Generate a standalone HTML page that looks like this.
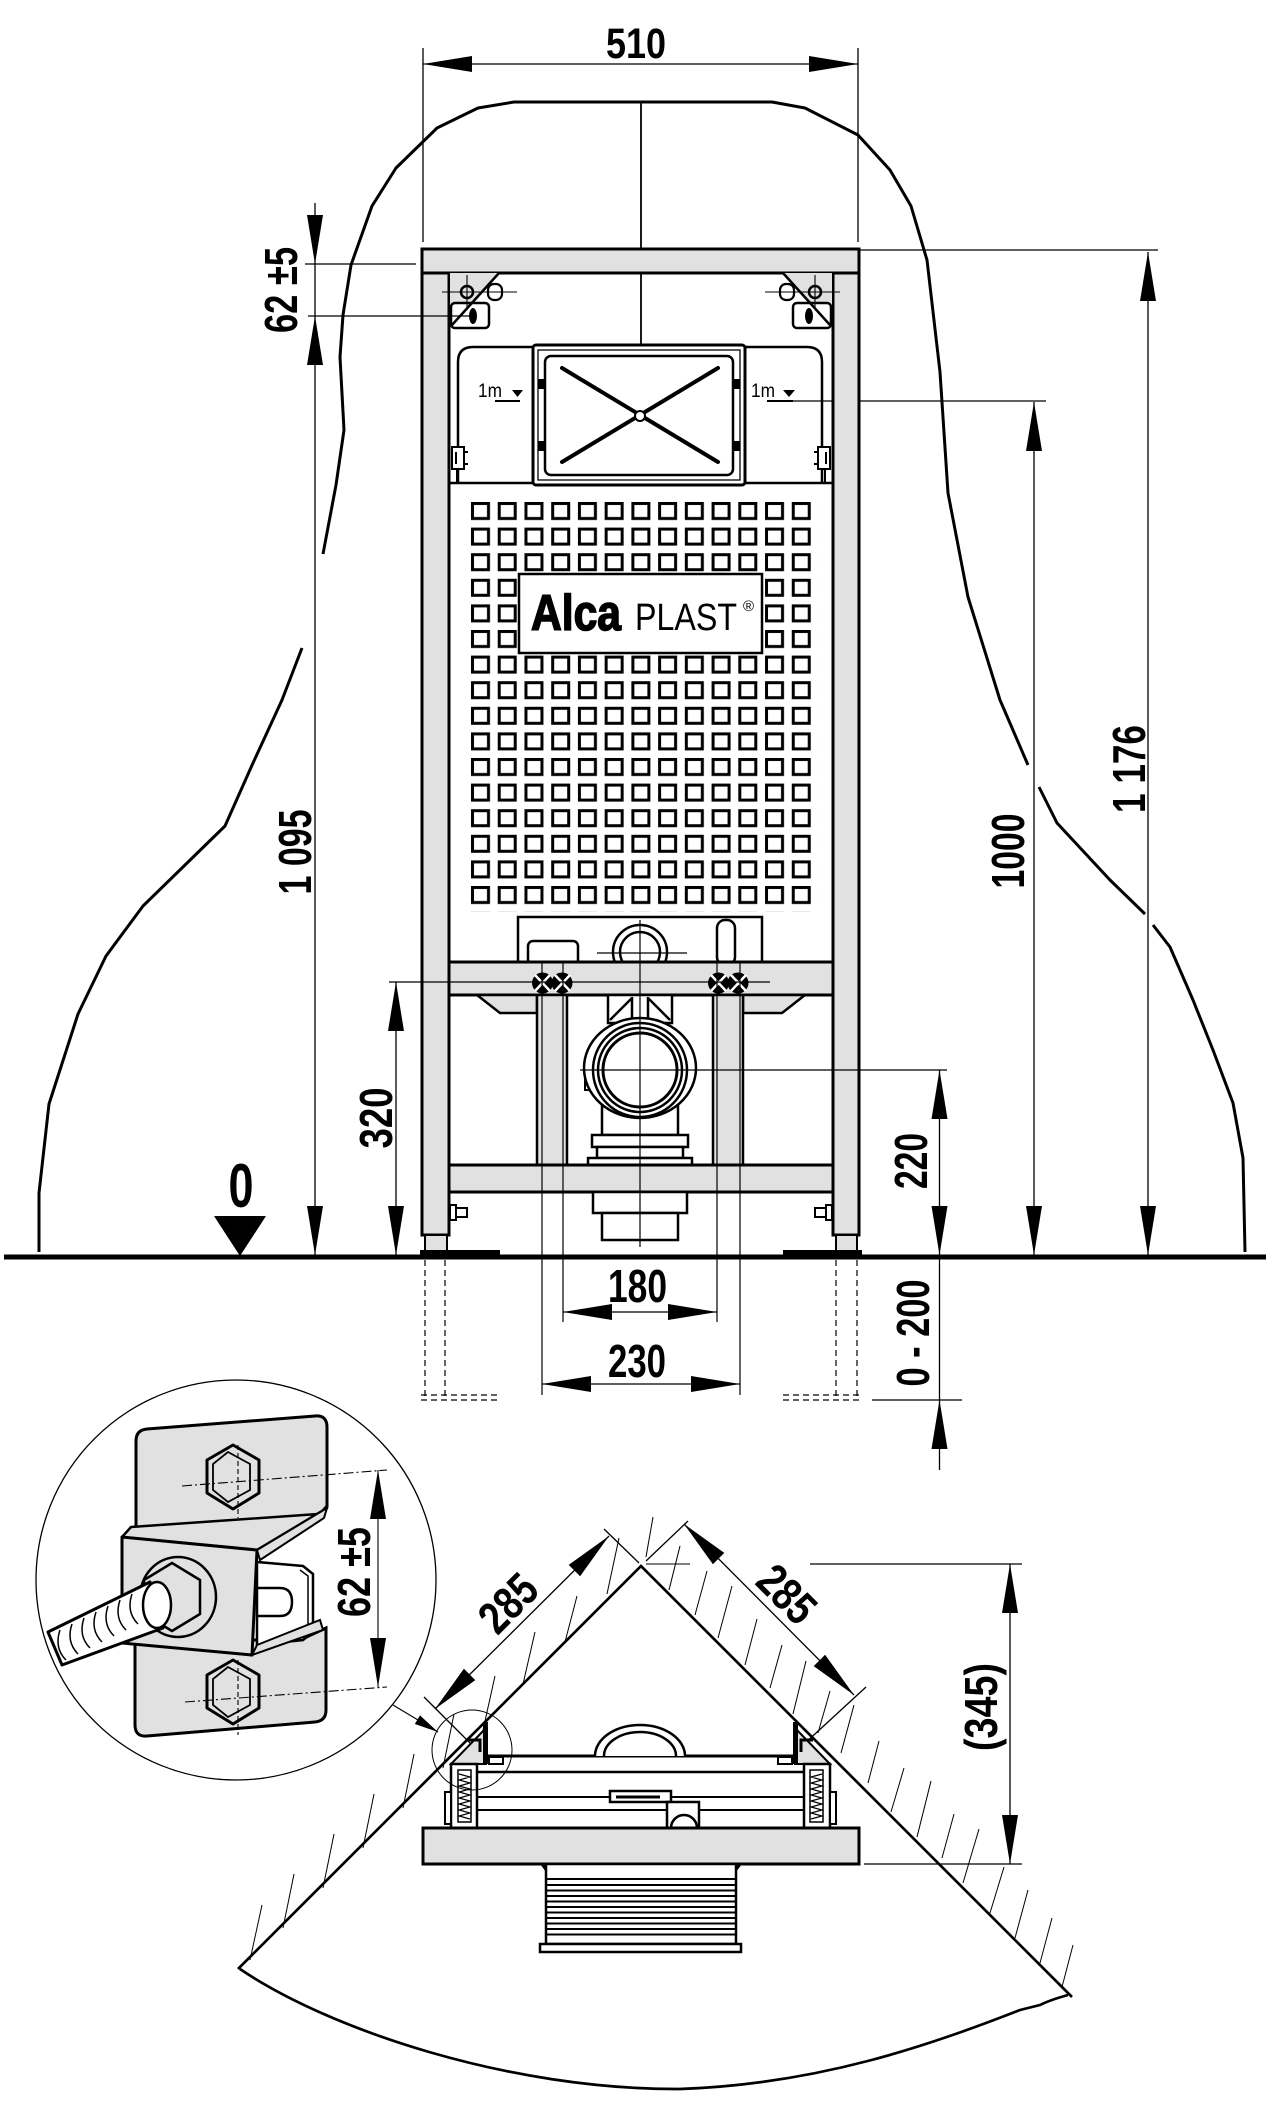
<!DOCTYPE html>
<html><head><meta charset="utf-8">
<style>
html,body{margin:0;padding:0;background:#fff;}
svg{display:block;}
text{font-family:"Liberation Sans",Arial,sans-serif;font-weight:bold;fill:#000;}
</style></head><body>
<svg width="1282" height="2123" viewBox="0 0 1282 2123" xmlns="http://www.w3.org/2000/svg">
<defs>
<pattern id="sq" x="471" y="502" width="26.73" height="25.6" patternUnits="userSpaceOnUse">
<rect x="1.5" y="1.5" width="16" height="15" fill="none" stroke="#000" stroke-width="3"/>
</pattern>
<g id="br">
<polygon points="783,273 832,273 832,325" fill="#e1e1e1"/>
<rect x="793" y="303" width="38" height="25" rx="4" fill="#fff" stroke="#000" stroke-width="2.5"/>
<ellipse cx="809" cy="316" rx="4" ry="8" fill="#000"/>
<line x1="783" y1="273" x2="830" y2="325" stroke="#000" stroke-width="2.5"/>
<rect x="780" y="284" width="14" height="16" rx="6" fill="none" stroke="#000" stroke-width="2.2"/>
<circle cx="815" cy="292" r="6" fill="none" stroke="#000" stroke-width="2.5"/>
<line x1="765" y1="292" x2="840" y2="292" stroke="#000" stroke-width="1.1"/>
<line x1="815" y1="275" x2="815" y2="307" stroke="#000" stroke-width="1.1"/>
</g>
<g id="clip">
<rect x="452" y="447" width="12" height="22" fill="#fff" stroke="#000" stroke-width="2"/>
<line x1="456" y1="452" x2="456" y2="464" stroke="#000" stroke-width="2"/>
<line x1="464" y1="452" x2="468" y2="452" stroke="#000" stroke-width="2"/>
<line x1="464" y1="464" x2="468" y2="464" stroke="#000" stroke-width="2"/>
<line x1="457" y1="469" x2="457" y2="483" stroke="#000" stroke-width="2"/>
</g>
<g id="sb">
<rect x="450" y="1205" width="6" height="15" fill="none" stroke="#000" stroke-width="2"/>
<rect x="456" y="1208" width="11" height="9" fill="none" stroke="#000" stroke-width="2"/>
</g>
<g id="tb">
<polygon points="451,1764 486,1764 486,1728" fill="#e1e1e1" stroke="#000" stroke-width="2"/>
<rect x="483" y="1722" width="5" height="42" fill="#000"/>
<path d="M468,1740 L480,1740 L480,1752" fill="none" stroke="#000" stroke-width="3"/>
<rect x="451" y="1764" width="26" height="64" fill="#fff" stroke="#000" stroke-width="2.5"/>
<rect x="458" y="1770" width="13" height="52" fill="#fff" stroke="#000" stroke-width="1.5"/>
<path d="M459,1774 l11,3 l-11,3 l11,3 l-11,3 l11,3 l-11,3 l11,3 l-11,3 l11,3 l-11,3 l11,3 l-11,3 l11,3 l-11,3 l11,3" fill="none" stroke="#000" stroke-width="1.2"/>
<rect x="445" y="1792" width="6" height="32" fill="#fff" stroke="#000" stroke-width="2"/>
<rect x="489" y="1757" width="14" height="7" fill="#fff" stroke="#000" stroke-width="2"/>
</g>
</defs>
<rect width="1282" height="2123" fill="#fff"/>

<!-- dome outline -->
<g fill="none" stroke="#000" stroke-width="3" stroke-linejoin="round">
<path d="M39,1252 L39,1193 L49,1104 L78,1014 L106,956 L143,906 L184,866 L225,826 L253,763 L282,700 L302,648"/>
<path d="M323,554 L336,485 L344,430 L340,357 L343,315 L351,265 L372,206 L396,168 L437,128 L478,108 L514,102 L772,102 L805,108 L858,135 L890,170 L911,206 L927,260 L940,372 L948,493 L968,597 L1000,700 L1028,765"/>
<path d="M1039,787 L1057,823 L1110,880 L1145,914"/>
<path d="M1153,925 L1170,947 L1193,1000 L1213,1050 L1233,1103 L1243,1158 L1245,1252"/>
</g>
<g stroke="#000" stroke-width="1.8">
<line x1="641" y1="102" x2="641" y2="249"/>
<line x1="641" y1="273" x2="641" y2="345"/>
</g>

<!-- thin dimension lines (under frame) -->
<g stroke="#000" stroke-width="1.3" fill="none">
<line x1="423" y1="48" x2="423" y2="242"/>
<line x1="858" y1="48" x2="858" y2="242"/>
<line x1="423" y1="64" x2="858" y2="64"/>
<line x1="315" y1="203" x2="315" y2="1255"/>
<line x1="305" y1="264" x2="416" y2="264"/>
<line x1="1148" y1="252" x2="1148" y2="1255"/>
<line x1="860" y1="250" x2="1158" y2="250"/>
<line x1="1034" y1="402" x2="1034" y2="1255"/>
<line x1="767" y1="401" x2="1046" y2="401"/>
<line x1="396" y1="982" x2="396" y2="1255"/>
<line x1="939.5" y1="1070" x2="939.5" y2="1470"/>
<line x1="872" y1="1400" x2="962" y2="1400"/>
<line x1="563" y1="1312" x2="717" y2="1312"/>
<line x1="542" y1="1384" x2="740" y2="1384"/>
</g>

<!-- frame -->
<rect x="422" y="273" width="27" height="962" fill="#e1e1e1" stroke="#000" stroke-width="3"/>
<rect x="833" y="273" width="26" height="962" fill="#e1e1e1" stroke="#000" stroke-width="3"/>
<rect x="422" y="249" width="437" height="24" fill="#e1e1e1" stroke="#000" stroke-width="3"/>
<rect x="425" y="1235" width="22" height="17" fill="#e1e1e1" stroke="#000" stroke-width="2"/>
<rect x="836" y="1235" width="21" height="17" fill="#e1e1e1" stroke="#000" stroke-width="2"/>
<rect x="420" y="1250" width="80" height="5" fill="#000"/>
<rect x="783" y="1250" width="79" height="5" fill="#000"/>

<use href="#br"/>
<use href="#br" transform="matrix(-1,0,0,1,1282,0)"/>

<!-- flush box panel -->
<path d="M458,483 L458,362 Q458,347 473,347 L807,347 Q822,347 822,362 L822,483" fill="none" stroke="#000" stroke-width="2.5"/>
<line x1="449" y1="483" x2="833" y2="483" stroke="#000" stroke-width="2.5"/>
<use href="#clip"/>
<use href="#clip" transform="matrix(-1,0,0,1,1282,0)"/>
<rect x="533" y="345" width="212" height="140" rx="3" fill="#fff" stroke="#000" stroke-width="3"/>
<rect x="538" y="350" width="202" height="130" fill="none" stroke="#000" stroke-width="1.3"/>
<rect x="545" y="356" width="188" height="119" rx="6" fill="#fff" stroke="#000" stroke-width="2.5"/>
<rect x="538" y="379" width="8" height="10" fill="#000"/>
<rect x="538" y="441" width="8" height="10" fill="#000"/>
<rect x="732" y="379" width="8" height="10" fill="#000"/>
<rect x="732" y="441" width="8" height="10" fill="#000"/>
<g stroke="#000" stroke-width="4" stroke-linecap="round">
<line x1="562" y1="368" x2="718" y2="462"/>
<line x1="718" y1="368" x2="562" y2="462"/>
</g>
<circle cx="640" cy="416" r="5" fill="#fff" stroke="#000" stroke-width="2"/>
<text x="490" y="397" font-size="19" text-anchor="middle" textLength="24" lengthAdjust="spacingAndGlyphs" style="font-weight:normal">1m</text>
<polygon points="512,390 523,390 517.5,397" fill="#000"/>
<line x1="495" y1="401" x2="520" y2="401" stroke="#000" stroke-width="2"/>
<text x="763" y="397" font-size="19" text-anchor="middle" textLength="24" lengthAdjust="spacingAndGlyphs" style="font-weight:normal">1m</text>
<polygon points="783,390 795,390 789,397" fill="#000"/>
<line x1="767" y1="401" x2="793" y2="401" stroke="#000" stroke-width="2"/>

<!-- grid -->
<rect x="471" y="502" width="347.5" height="409.6" fill="url(#sq)"/>
<rect x="519" y="574" width="243" height="79" fill="#fff" stroke="#000" stroke-width="2.5"/>
<text x="531" y="630" font-size="50" textLength="90" lengthAdjust="spacingAndGlyphs" stroke="#000" stroke-width="1.6" style="font-weight:900">Alca</text>
<text x="635" y="630" font-size="38" textLength="102" lengthAdjust="spacingAndGlyphs" style="font-weight:normal">PLAST</text>
<text x="743" y="611" font-size="15" style="font-weight:normal">®</text>

<!-- cistern bottom -->
<rect x="518" y="917" width="244" height="47" fill="#fff" stroke="#000" stroke-width="2.5"/>
<rect x="528" y="941" width="50" height="24" rx="5" fill="#fff" stroke="#000" stroke-width="2.5"/>
<rect x="717" y="920" width="18" height="45" rx="8" fill="#fff" stroke="#000" stroke-width="2.5"/>
<circle cx="640" cy="952" r="27" fill="#fff" stroke="#000" stroke-width="2.5"/>
<circle cx="640" cy="952" r="20" fill="none" stroke="#000" stroke-width="2.5"/>

<!-- crossbars & members -->
<rect x="449" y="962" width="384" height="33" fill="#e1e1e1" stroke="#000" stroke-width="3"/>
<polygon points="477,995 500,1013 537,1013 537,995" fill="#e1e1e1" stroke="#000" stroke-width="2.5"/>
<polygon points="805,995 782,1013 743,1013 743,995" fill="#e1e1e1" stroke="#000" stroke-width="2.5"/>
<rect x="537" y="995" width="30" height="170" fill="#e1e1e1" stroke="#000" stroke-width="2.5"/>
<rect x="713" y="995" width="30" height="170" fill="#e1e1e1" stroke="#000" stroke-width="2.5"/>

<!-- drain assembly -->
<rect x="608" y="995" width="64" height="28" fill="#fff" stroke="#000" stroke-width="2.5"/>
<g stroke="#000" stroke-width="2.5" fill="none">
<line x1="610" y1="1020" x2="632" y2="998"/>
<line x1="670" y1="1020" x2="648" y2="998"/>
<line x1="632" y1="997" x2="632" y2="1023"/>
<line x1="648" y1="997" x2="648" y2="1023"/>
</g>
<rect x="602" y="1090" width="76" height="45" fill="#fff" stroke="#000" stroke-width="2.5"/>
<rect x="585" y="1076" width="8" height="14" fill="#fff" stroke="#000" stroke-width="2"/>
<ellipse cx="640" cy="1068" rx="56" ry="50" fill="#fff" stroke="#000" stroke-width="2.5"/>
<circle cx="640" cy="1070" r="47" fill="none" stroke="#000" stroke-width="2.5"/>
<circle cx="640" cy="1070" r="42" fill="none" stroke="#000" stroke-width="2.5"/>
<circle cx="640" cy="1070" r="37" fill="#fff" stroke="#000" stroke-width="3"/>
<rect x="592" y="1135" width="96" height="12" fill="#fff" stroke="#000" stroke-width="2.5"/>
<rect x="597" y="1147" width="86" height="11" fill="#fff" stroke="#000" stroke-width="2.5"/>
<rect x="588" y="1158" width="104" height="7" fill="#fff" stroke="#000" stroke-width="2.5"/>
<rect x="449" y="1165" width="384" height="27" fill="#e1e1e1" stroke="#000" stroke-width="3"/>
<rect x="593" y="1192" width="94" height="21" fill="#fff" stroke="#000" stroke-width="2.5"/>
<rect x="602" y="1213" width="76" height="27" fill="#fff" stroke="#000" stroke-width="2.5"/>
<use href="#sb"/>
<use href="#sb" transform="matrix(-1,0,0,1,1282,0)"/>

<!-- bolts -->
<g fill="#000">
<circle cx="542.5" cy="983" r="10.5"/><circle cx="562" cy="983" r="10.5"/>
<circle cx="718.5" cy="983" r="10.5"/><circle cx="738" cy="983" r="10.5"/>
</g>
<g stroke="#fff" stroke-width="2.5">
<line x1="535" y1="975" x2="550" y2="991"/><line x1="550" y1="975" x2="535" y2="991"/>
<line x1="555" y1="975" x2="570" y2="991"/><line x1="570" y1="975" x2="555" y2="991"/>
<line x1="711" y1="975" x2="726" y2="991"/><line x1="726" y1="975" x2="711" y2="991"/>
<line x1="731" y1="975" x2="746" y2="991"/><line x1="746" y1="975" x2="731" y2="991"/>
</g>

<!-- thin lines over frame -->
<g stroke="#000" stroke-width="1.2" fill="none">
<line x1="308" y1="316" x2="476" y2="316"/>
<line x1="389" y1="982" x2="770" y2="982"/>
<line x1="580" y1="1070" x2="947" y2="1070"/>
<line x1="597" y1="953" x2="687" y2="953"/>
<line x1="640" y1="920" x2="640" y2="1247"/>
<line x1="542" y1="962" x2="542" y2="1395"/>
<line x1="563" y1="962" x2="563" y2="1322"/>
<line x1="717" y1="962" x2="717" y2="1322"/>
<line x1="740" y1="962" x2="740" y2="1395"/>
</g>

<!-- floor -->
<line x1="4" y1="1257" x2="1266" y2="1257" stroke="#000" stroke-width="5"/>
<polygon points="214,1216 266,1216 240,1256" fill="#000"/>
<g stroke="#000" stroke-width="1.2" stroke-dasharray="6,4" fill="none">
<line x1="425" y1="1260" x2="425" y2="1396"/>
<line x1="445" y1="1260" x2="445" y2="1396"/>
<line x1="836" y1="1260" x2="836" y2="1396"/>
<line x1="857" y1="1260" x2="857" y2="1396"/>
<line x1="421" y1="1395" x2="501" y2="1395"/>
<line x1="421" y1="1400" x2="501" y2="1400"/>
<line x1="783" y1="1395" x2="862" y2="1395"/>
<line x1="783" y1="1400" x2="862" y2="1400"/>
</g>

<!-- arrowheads -->
<g fill="#000">
<polygon points="315,264 307,215 323,215"/>
<polygon points="315,316 307,365 323,365"/>
<polygon points="315,1255 307,1206 323,1206"/>
<polygon points="1148,252 1140,301 1156,301"/>
<polygon points="1148,1255 1140,1206 1156,1206"/>
<polygon points="1034,402 1026,451 1042,451"/>
<polygon points="1034,1255 1026,1206 1042,1206"/>
<polygon points="396,982 388,1031 404,1031"/>
<polygon points="396,1255 388,1206 404,1206"/>
<polygon points="939.5,1070 931.5,1119 947.5,1119"/>
<polygon points="939.5,1255 931.5,1206 947.5,1206"/>
<polygon points="939.5,1400 931.5,1449 947.5,1449"/>
<polygon points="378,1470 370,1519 386,1519"/>
<polygon points="378,1687 370,1638 386,1638"/>
<polygon points="1010,1564 1002,1613 1018,1613"/>
<polygon points="1010,1864 1002,1815 1018,1815"/>
<polygon points="423,64 472,56 472,72"/>
<polygon points="858,64 809,56 809,72"/>
<polygon points="563,1312 612,1304 612,1320"/>
<polygon points="717,1312 668,1304 668,1320"/>
<polygon points="542,1384 591,1376 591,1392"/>
<polygon points="740,1384 691,1376 691,1392"/>
<polygon points="609,1536 580.1,1576.3 568.7,1564.9"/>
<polygon points="435,1709 475.3,1680.1 463.9,1668.7"/>
<polygon points="684,1524 724.3,1552.9 712.9,1564.3"/>
<polygon points="854,1695 825.1,1654.7 813.7,1666.1"/>
<polygon points="438,1732 414.8,1724 420,1715.4"/>
</g>

<!-- dimension texts -->
<text x="636" y="58" font-size="43" text-anchor="middle" textLength="60" lengthAdjust="spacingAndGlyphs">510</text>
<text transform="translate(297,290) rotate(-90)" font-size="46" text-anchor="middle" textLength="86" lengthAdjust="spacingAndGlyphs">62 ±5</text>
<text transform="translate(311,852) rotate(-90)" font-size="46" text-anchor="middle" textLength="85" lengthAdjust="spacingAndGlyphs">1 095</text>
<text transform="translate(1145,769) rotate(-90)" font-size="46" text-anchor="middle" textLength="88" lengthAdjust="spacingAndGlyphs">1 176</text>
<text transform="translate(1024,851) rotate(-90)" font-size="46" text-anchor="middle" textLength="75" lengthAdjust="spacingAndGlyphs">1000</text>
<text transform="translate(392,1118) rotate(-90)" font-size="46" text-anchor="middle" textLength="61" lengthAdjust="spacingAndGlyphs">320</text>
<text transform="translate(927,1161) rotate(-90)" font-size="46" text-anchor="middle" textLength="56" lengthAdjust="spacingAndGlyphs">220</text>
<text transform="translate(929,1333) rotate(-90)" font-size="46" text-anchor="middle" textLength="107" lengthAdjust="spacingAndGlyphs">0 - 200</text>
<text x="241" y="1207" font-size="62" text-anchor="middle" textLength="25" lengthAdjust="spacingAndGlyphs">0</text>
<text x="637.5" y="1302" font-size="46" text-anchor="middle" textLength="59" lengthAdjust="spacingAndGlyphs">180</text>
<text x="637" y="1377" font-size="46" text-anchor="middle" textLength="58" lengthAdjust="spacingAndGlyphs">230</text>

<!-- detail circle -->
<circle cx="236" cy="1580" r="200" fill="none" stroke="#000" stroke-width="1.3"/>
<path d="M136,1530 L136,1441 Q136,1430 147,1429 L315,1416 Q327,1415 327,1427 L327,1506 L313,1522 Z" fill="#e1e1e1" stroke="#000" stroke-width="3"/>
<path d="M135,1640 L135,1725 Q135,1737 147,1736 L315,1722 Q326,1721 326,1710 L326,1628 L300,1640 Z" fill="#e1e1e1" stroke="#000" stroke-width="3"/>
<g stroke="#000" stroke-width="3" fill="#e1e1e1" stroke-linejoin="round">
<polygon points="233,1445 259,1460 259,1493 233,1509 207,1493 207,1460"/>
<polygon points="233,1660 259,1675 259,1708 233,1724 207,1708 207,1675"/>
</g>
<g stroke="#000" stroke-width="1.8" fill="none">
<polygon points="228,1452 250,1464 250,1490 228,1502 213,1490 213,1464"/>
<polygon points="228,1667 250,1679 250,1705 228,1717 213,1705 213,1679"/>
</g>
<g stroke="#000" stroke-width="1.1" fill="none">
<line x1="182" y1="1486" x2="387" y2="1470" stroke-dasharray="10,3,2,3"/>
<line x1="185" y1="1702" x2="387" y2="1687" stroke-dasharray="10,3,2,3"/>
<line x1="238" y1="1445" x2="238" y2="1518" stroke-dasharray="5,3"/>
<line x1="238" y1="1660" x2="238" y2="1735" stroke-dasharray="5,3"/>
<line x1="378" y1="1470" x2="378" y2="1687"/>
<line x1="393" y1="1705" x2="438" y2="1732"/>
</g>
<polygon points="122,1537 131,1527 318,1514 327,1508 257,1550" fill="#e1e1e1" stroke="#000" stroke-width="2.5" stroke-linejoin="round"/>
<polygon points="122,1537 257,1550 252,1655 122,1643" fill="#e1e1e1" stroke="#000" stroke-width="3" stroke-linejoin="round"/>
<polygon points="257,1550 327,1508 324,1518 260,1560" fill="#e1e1e1" stroke="#000" stroke-width="2"/>
<polygon points="257,1562 303,1566 313,1574 313,1632 303,1640 257,1645" fill="#fff" stroke="#000" stroke-width="2.5"/>
<polyline points="300,1570 308,1576 308,1630 300,1636" fill="none" stroke="#000" stroke-width="1.5"/>
<path d="M258,1588 L280,1588 Q292,1588 292,1602 Q292,1616 280,1616 L258,1616" fill="none" stroke="#000" stroke-width="2.5"/>
<polygon points="257,1645 320,1620 323,1630 252,1655" fill="#e1e1e1" stroke="#000" stroke-width="2"/>
<ellipse cx="178" cy="1597" rx="38" ry="40" fill="#e1e1e1" stroke="#000" stroke-width="2.5"/>
<polygon points="172,1563 200,1580 200,1614 172,1631 144,1614 144,1580" fill="#e1e1e1" stroke="#000" stroke-width="2.5"/>
<polygon points="48,1632 150,1582 163,1628 62,1665" fill="#fff" stroke="#000" stroke-width="3" stroke-linejoin="round"/>
<g fill="none" stroke="#000" stroke-width="1.5">
<path d="M60,1630 q-6,18 6,30"/><path d="M72,1624 q-6,18 6,30"/><path d="M84,1618 q-6,18 6,30"/>
<path d="M96,1612 q-6,18 6,30"/><path d="M108,1606 q-6,18 6,30"/><path d="M120,1600 q-6,18 6,30"/>
<path d="M132,1594 q-6,18 6,30"/>
</g>
<ellipse cx="157" cy="1605" rx="14" ry="23" fill="#fff" stroke="#000" stroke-width="2.5"/>
<text transform="translate(370,1572) rotate(-90)" font-size="46" text-anchor="middle" textLength="90" lengthAdjust="spacingAndGlyphs">62 ±5</text>

<!-- corner view: hatching -->
<g stroke="#000" stroke-width="1" fill="none">
<line x1="646" y1="1557" x2="653" y2="1517"/>
<line x1="669" y1="1590" x2="680" y2="1546"/>
<line x1="695" y1="1615" x2="707" y2="1571"/>
<line x1="718" y1="1638" x2="732" y2="1586"/>
<line x1="745" y1="1665" x2="757" y2="1619"/>
<line x1="770" y1="1688" x2="782" y2="1645"/>
<line x1="793" y1="1714" x2="806" y2="1661"/>
<line x1="818" y1="1733" x2="830" y2="1691"/>
<line x1="841" y1="1753" x2="854" y2="1705"/>
<line x1="868" y1="1783" x2="879" y2="1741"/>
<line x1="891" y1="1812" x2="904" y2="1768"/>
<line x1="917" y1="1837" x2="931" y2="1781"/>
<line x1="942" y1="1858" x2="954" y2="1814"/>
<line x1="963" y1="1883" x2="979" y2="1829"/>
<line x1="990" y1="1913" x2="1004" y2="1867"/>
<line x1="1015" y1="1938" x2="1028" y2="1890"/>
<line x1="1040" y1="1963" x2="1052" y2="1918"/>
<line x1="1062" y1="1987" x2="1073" y2="1945"/>
<line x1="607" y1="1594" x2="619" y2="1538"/>
<line x1="565" y1="1642" x2="577" y2="1596"/>
<line x1="523" y1="1684" x2="535" y2="1632"/>
<line x1="483" y1="1730" x2="495" y2="1676"/>
<line x1="443" y1="1768" x2="454" y2="1714"/>
<line x1="403" y1="1808" x2="414" y2="1754"/>
<line x1="363" y1="1848" x2="374" y2="1794"/>
<line x1="323" y1="1888" x2="334" y2="1834"/>
<line x1="283" y1="1928" x2="294" y2="1874"/>
<line x1="250" y1="1960" x2="262" y2="1905"/>
<line x1="646" y1="1564" x2="690" y2="1564"/>
<!-- dims -->
<line x1="609" y1="1536" x2="435" y2="1709" stroke-width="1.3"/>
<line x1="684" y1="1524" x2="854" y2="1695" stroke-width="1.3"/>
<line x1="604" y1="1529" x2="639" y2="1563" stroke-width="1.3"/>
<line x1="424" y1="1697" x2="481" y2="1754" stroke-width="1.3"/>
<line x1="646" y1="1561" x2="688" y2="1521" stroke-width="1.3"/>
<line x1="803" y1="1745" x2="866" y2="1687" stroke-width="1.3"/>
<line x1="1010" y1="1564" x2="1010" y2="1864" stroke-width="1.3"/>
<line x1="810" y1="1564" x2="1022" y2="1564" stroke-width="1.3"/>
<line x1="864" y1="1864" x2="1022" y2="1864" stroke-width="1.3"/>
</g>

<!-- corner view: walls & arc -->
<path d="M238,1969 L641,1566 L1072,1997" fill="none" stroke="#000" stroke-width="2.7" stroke-linejoin="miter"/>
<path d="M240,1969 C330,2030 510,2090 680,2089 C820,2084 930,2045 1020,2010 L1040,2005 Q1050,2000 1068,1995" fill="none" stroke="#000" stroke-width="2.7"/>

<!-- corner view: tray -->
<g stroke="#000" fill="none">
<line x1="487" y1="1756" x2="793" y2="1756" stroke-width="3"/>
<line x1="477" y1="1772" x2="803" y2="1772" stroke-width="2.5"/>
<line x1="477" y1="1797" x2="803" y2="1797" stroke-width="2"/>
<line x1="477" y1="1810" x2="803" y2="1810" stroke-width="2"/>
</g>
<path d="M595,1756 A45,31 0 0 1 685,1756" fill="#fff" stroke="#000" stroke-width="2.5"/>
<path d="M604,1756 A36,24 0 0 1 676,1756" fill="none" stroke="#000" stroke-width="2.5"/>
<rect x="610" y="1791" width="61" height="11" fill="#fff" stroke="#000" stroke-width="2.5"/>
<line x1="616" y1="1797" x2="660" y2="1797" stroke="#000" stroke-width="3"/>
<rect x="667" y="1802" width="32" height="26" fill="#fff" stroke="#000" stroke-width="2.5"/>
<path d="M671,1828 A13,13 0 0 1 697,1828" fill="none" stroke="#000" stroke-width="2.5"/>
<use href="#tb"/>
<use href="#tb" transform="matrix(-1,0,0,1,1281,0)"/>
<rect x="423" y="1828" width="436" height="36" fill="#e1e1e1" stroke="#000" stroke-width="3"/>
<rect x="546" y="1864" width="190" height="80" fill="#fff" stroke="#000" stroke-width="2.5"/>
<g stroke="#000" stroke-width="2">
<line x1="546" y1="1879" x2="736" y2="1879"/><line x1="546" y1="1885" x2="736" y2="1885"/>
<line x1="546" y1="1890.5" x2="736" y2="1890.5"/><line x1="546" y1="1896" x2="736" y2="1896"/>
<line x1="546" y1="1901.5" x2="736" y2="1901.5"/><line x1="546" y1="1907" x2="736" y2="1907"/>
<line x1="546" y1="1912.5" x2="736" y2="1912.5"/><line x1="546" y1="1918" x2="736" y2="1918"/>
<line x1="546" y1="1923.5" x2="736" y2="1923.5"/><line x1="546" y1="1929" x2="736" y2="1929"/>
<line x1="546" y1="1934.5" x2="736" y2="1934.5"/>
</g>
<rect x="540" y="1944" width="201" height="8" fill="#fff" stroke="#000" stroke-width="2.5"/>
<polygon points="540,1864 546,1864 546,1872" fill="#000"/>
<polygon points="742,1864 736,1864 736,1872" fill="#000"/>
<circle cx="472" cy="1750" r="40" fill="none" stroke="#000" stroke-width="1"/>

<text transform="translate(508,1603) rotate(-45)" y="16" font-size="46" text-anchor="middle" textLength="62" lengthAdjust="spacingAndGlyphs">285</text>
<text transform="translate(787,1594) rotate(45)" y="16" font-size="46" text-anchor="middle" textLength="62" lengthAdjust="spacingAndGlyphs">285</text>
<text transform="translate(997,1707) rotate(-90)" font-size="46" text-anchor="middle" textLength="88" lengthAdjust="spacingAndGlyphs">(345)</text>
</svg>
</body></html>
